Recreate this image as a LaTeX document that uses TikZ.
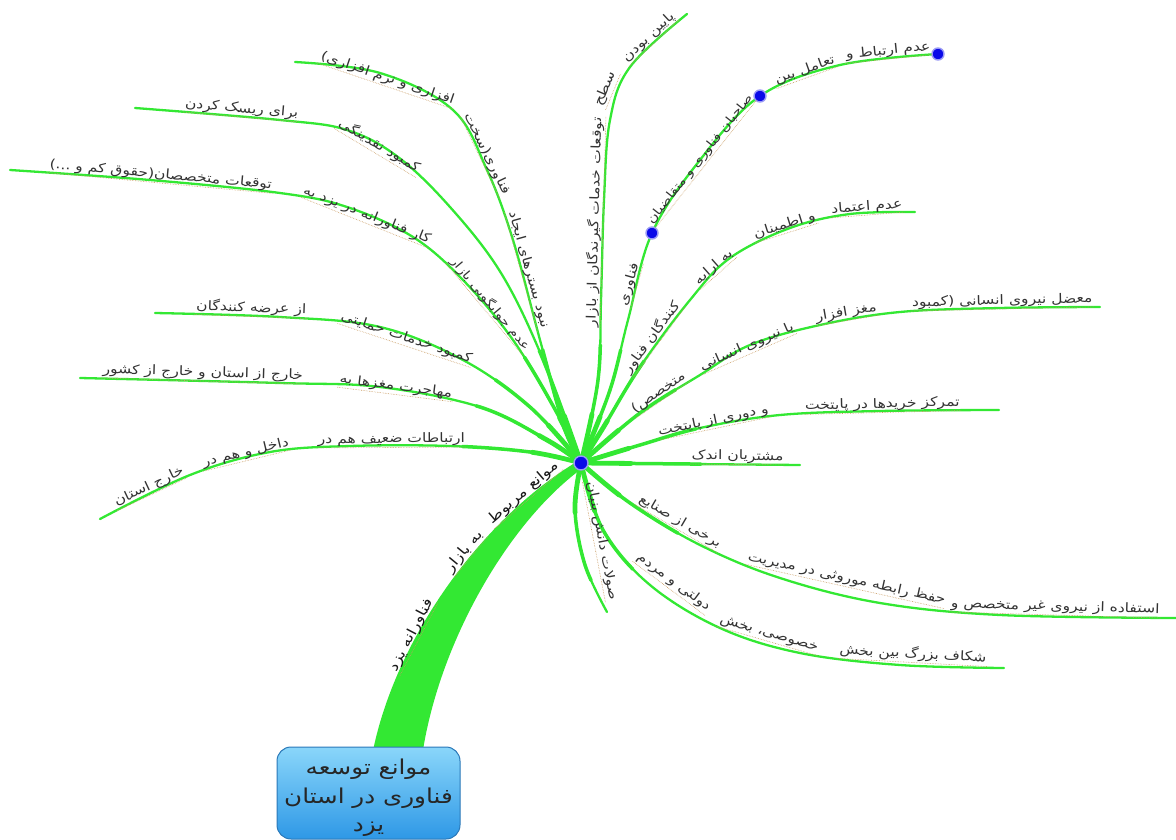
\documentclass[tikz,border=0pt]{standalone}
\usepackage{fontspec}
\usetikzlibrary{calc}
\TeXXeTstate=1
\newfontfamily\fa[Script=Arabic, FakeStretch=1.2, WordSpace=1.15]{DejaVu Sans}
\newfontfamily\faroot[Script=Arabic, FakeStretch=1.2]{DejaVu Sans}
\newcommand\myrtl[1]{\beginR #1\endR}
\newcommand\lblsize{\fontsize{13}{15}\selectfont}
\newcommand\smallsize{\fontsize{12}{14}\selectfont}
\newcommand\stemsize{\fontsize{14}{16}\selectfont}
\newcommand\rootsize{\fontsize{20.5}{28.5}\selectfont}
\definecolor{brgreen}{HTML}{33E833}
\definecolor{txt}{HTML}{333333}
\definecolor{ulc}{HTML}{C89A60}
\definecolor{dotblue}{HTML}{0A0AE8}
\definecolor{ringblue}{HTML}{9A9AF5}
\definecolor{boxtop}{HTML}{8AD6FA}
\definecolor{boxbot}{HTML}{2E98E6}
\definecolor{boxline}{HTML}{2A78B8}
\begin{document}
\begin{tikzpicture}[x=1pt,y=-1pt,
  br/.style={draw=brgreen, line width=2.3pt, line cap=round, line join=round,
    postaction={draw=brgreen, line width=3.5pt, line cap=round, dash pattern=on 120pt off 3000pt},
    postaction={draw=brgreen, line width=4.8pt, line cap=round, dash pattern=on 50pt off 3000pt}},
  lbl/.style={font=\fa\lblsize, text=txt, inner sep=1.2pt, midway, sloped, above,
    append after command={(\tikzlastnode.south west) edge[draw=ulc, densely dotted, line width=0.6pt] (\tikzlastnode.south east)}},
  lblsmall/.style={lbl, font=\fa\smallsize},
  stemlbl/.style={lbl, font=\fa\stemsize, text=black!90},
  dotnode/.style={circle, fill=dotblue, draw=ringblue, line width=1.4pt, inner sep=0pt, minimum size=12pt},
  rootbox/.style={rounded corners=14pt, draw=boxline, line width=1pt, top color=boxtop, bottom color=boxbot,
    minimum width=183pt, minimum height=92pt, inner sep=0pt},
  roottext/.style={align=center, font=\faroot\rootsize, text=black!85, inner sep=0pt}
]
\useasboundingbox (0,0) rectangle (1176,840);
\coordinate (hub) at (581,463);
\coordinate (e1) at (100,519);
\coordinate (e2) at (80,378);
\coordinate (e3) at (155,313);
\coordinate (e4) at (10,170);
\coordinate (e5) at (135,108);
\coordinate (e6) at (295,62);
\coordinate (e7) at (687,14);
\coordinate (d1) at (652,233);
\coordinate (d2) at (760,96);
\coordinate (e8) at (938,54);
\coordinate (e9) at (915,212);
\coordinate (e10) at (1100,307);
\coordinate (e11) at (999,410);
\coordinate (e12) at (800,465);
\coordinate (e13) at (1176,618);
\coordinate (e14) at (1004,668);
\coordinate (e15) at (607,612);
\coordinate (rootpos) at (368.5,793);

% main stem from root to hub
\fill[brgreen] ($(rootpos)+(4,-40)$) .. controls (395,640) and (480,520) .. (578,461) -- (hub)
  -- (584,467) .. controls (510,520) and (440,640) .. ($(rootpos)+(54,-40)$) -- cycle;

% branches
\draw[br] plot[smooth,tension=0.6] coordinates {(hub) (530,452) (450,446) (350,446) (270,452) (190,475) (e1)};
\draw[br] plot[smooth,tension=0.6] coordinates {(hub) (547,440) (480,407) (380,387) (280,383) (e2)};
\draw[br] plot[smooth,tension=0.6] coordinates {(hub) (530,407) (463,360) (380,327) (280,317) (e3)};
\draw[br] plot[smooth,tension=0.6] coordinates {(hub) (557,413) (513,340) (463,280) (413,237) (347,207) (280,193) (150,180) (e4)};
\draw[br] plot[smooth,tension=0.6] coordinates {(hub) (542,357) (501,273) (450,207) (398,157) (347,130) (280,120) (e5)};
\draw[br] plot[smooth,tension=0.6] coordinates {(hub) (563,423) (540,340) (513,240) (487,170) (453,110) (380,73) (e6)};
\draw[br] plot[smooth,tension=0.6] coordinates {(hub) (598,380) (601,300) (604,200) (610,120) (630,67) (e7)};
\draw[br] plot[smooth,tension=0.6] coordinates {(hub) (610,390) (628,320) (d1) (700,160) (d2) (840,65) (e8)};
\draw[br] plot[smooth,tension=0.6] coordinates {(hub) (603,428) (640,367) (690,300) (730,258) (790,228) (850,214) (e9)};
\draw[br] plot[smooth,tension=0.6] coordinates {(hub) (640,413) (700,375) (750,345) (820,325) (900,312) (1000,308) (e10)};
\draw[br] plot[smooth,tension=0.6] coordinates {(hub) (640,445) (700,428) (780,415) (880,411) (e11)};
\draw[br] (hub) -- (e12);
\draw[br] plot[smooth,tension=0.6] coordinates {(hub) (630,503) (700,545) (780,578) (880,603) (1000,615) (e13)};
\draw[br] plot[smooth,tension=0.6] coordinates {(hub) (603,530) (650,585) (720,628) (800,653) (900,665) (e14)};
\draw[br] plot[smooth,tension=0.6] coordinates {(hub) (575,510) (585,565) (e15)};

% root box
\node[rootbox] (root) at (rootpos) {};
\node[roottext] (roottxt) at (368.5,798) {\myrtl{موانع توسعه}\\\myrtl{فناوری در استان}\\\myrtl{یزد}};

% dots
\node[dotnode, minimum size=14pt] (hubdot) at (hub) {};
\node[dotnode] (dot1) at (d1) {};
\node[dotnode] (dot2) at (d2) {};
\node[dotnode] (dot3) at (e8) {};

% stem labels
\path (500,524) -- (558,474) node[stemlbl] {\myrtl{موانع مربوط}};
\path (452,580) -- (490,534) node[stemlbl] {\myrtl{به بازار}};
\path (395,685) -- (443,593) node[stemlbl] {\myrtl{فناورانه یزد}};

% B1
\path (483,447) -- (300,448) node[lbl] {\myrtl{ارتباطات ضعیف هم در}};
\path (295,449) -- (200,472) node[lbl] {\myrtl{داخل و هم در}};
\path (195,474) -- (110,514) node[lbl] {\myrtl{خارج استان}};
% B2
\path (470,404) -- (320,385) node[lbl] {\myrtl{مهاجرت مغزها به}};
\path (305,384) -- (100,378) node[lbl] {\myrtl{خارج از استان و خارج از کشور}};
% B3
\path (478,370) -- (330,321) node[lbl] {\myrtl{کمبود خدمات حمایتی}};
\path (322,319) -- (180,314) node[lbl] {\myrtl{از عرضه کنندگان}};
% B4
\path (525,358) -- (443,260) node[lblsmall] {\myrtl{عدم جوابگویی بازار}};
\path (428,248) -- (300,197) node[lbl] {\myrtl{کار فناورانه در یزد به}};
\path (290,195) -- (30,171) node[lbl] {\myrtl{توقعات متخصصان(حقوق کم و ...)}};
% B5
\path (420,180) -- (330,126) node[lbl] {\myrtl{کمبود نقدینگی}};
\path (322,124) -- (160,110) node[lbl] {\myrtl{برای ریسک کردن}};
% B6
\path (535,322) -- (507,222) node[lbl] {\myrtl{نبود بسترهای ایجاد}};
\path (498,195) -- (462,120) node[lbl] {\myrtl{فناوری(سخت}};
\path (450,108) -- (320,64) node[lbl] {\myrtl{افزاری و نرم افزاری)}};
% B7
\path (600,330) -- (606,115) node[lbl] {\myrtl{توقعات خدمات گیرندگان از بازار}};
\path (608,104) -- (618,80) node[lbl] {\myrtl{سطح}};
\path (625,70) -- (683,16) node[lbl] {\myrtl{پایین بودن}};
% B8
\path (626,325) -- (648,248) node[lbl] {\myrtl{فناوری}};
\path (660,222) -- (752,106) node[lblsmall] {\myrtl{صاحبان فناوری و متقاضیان}};
\path (770,91) -- (845,64) node[lbl] {\myrtl{تعامل بین}};
\path (850,63) -- (928,55) node[lbl] {\myrtl{عدم ارتباط و}};
% B9
\path (630,382) -- (688,303) node[lbl] {\myrtl{کنندگان فناور}};
\path (693,296) -- (745,250) node[lbl] {\myrtl{به ارایه}};
\path (752,244) -- (822,222) node[lbl] {\myrtl{و اطمینان}};
\path (830,218) -- (905,212) node[lbl] {\myrtl{عدم اعتماد}};
% B10
\path (636,418) -- (690,381) node[lbl] {\myrtl{متخصص)}};
\path (695,378) -- (805,330) node[lbl] {\myrtl{یا نیروی انسانی}};
\path (810,327) -- (885,314) node[lbl] {\myrtl{مغز افزار}};
\path (915,311) -- (1090,307) node[lbl] {\myrtl{معضل نیروی انسانی (کمبود}};
% B11
\path (655,441) -- (775,416) node[lbl] {\myrtl{و دوری از پایتخت}};
\path (780,415) -- (985,410) node[lbl] {\myrtl{تمرکز خریدها در پایتخت}};
% B12
\path (680,464) -- (795,465) node[lbl] {\myrtl{مشتریان اندک}};
% B13
\path (622,497) -- (730,560) node[lbl] {\myrtl{برخی از صنایع}};
\path (735,562) -- (955,611) node[lbl] {\myrtl{حفظ رابطه موروثی در مدیریت}};
\path (950,612) -- (1160,618) node[lbl] {\myrtl{استفاده از نیروی غیر متخصص و}};
% B14
\path (620,552) -- (718,625) node[lbl] {\myrtl{دولتی و مردم}};
\path (722,628) -- (812,654) node[lbl] {\myrtl{خصوصی، بخش}};
\path (830,658) -- (995,667) node[lbl] {\myrtl{شکاف بزرگ بین بخش}};
% B15
\path (583,485) -- (605,600) node[lbl] {\myrtl{صولات دانش بنیان}};
\end{tikzpicture}
\end{document}
